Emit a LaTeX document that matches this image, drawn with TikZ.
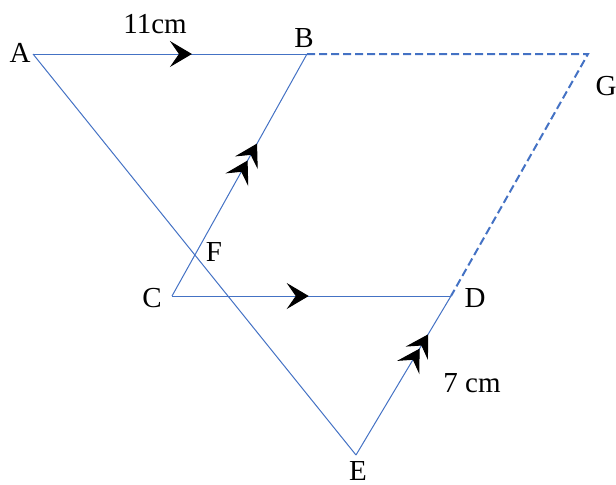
\documentclass[tikz,border=0pt]{standalone}
\usepackage{fontspec}
\setmainfont{Liberation Serif}
\usepackage{xcolor}
\usetikzlibrary{arrows.meta,decorations.markings}

\begin{document}
\begin{tikzpicture}[x=0.5pt,y=-0.5pt,>=Stealth,
    font=\fontsize{14.5}{16}\selectfont,
    seg/.style={draw=cL,line width=0.5pt},
    ext/.style={draw=cL,line width=1pt,dash pattern=on 4pt off 2pt},
    mk/.style={postaction={decorate,decoration={markings,
       mark=at position #1 with {\arrow[black]{Stealth[length=11pt,width=13pt,inset=4.5pt]}}}}},
    mktwo/.style 2 args={postaction={decorate,decoration={markings,
       mark=at position #1 with {\arrow[black]{Stealth[length=11pt,width=13pt,inset=4.5pt]}},
       mark=at position #2 with {\arrow[black]{Stealth[length=11pt,width=13pt,inset=4.5pt]}}}}}]
    \definecolor{cL}{RGB}{68,114,196}
    \useasboundingbox (0,0) rectangle (616,484);
    % points
    \coordinate (A) at (33,54);
    \coordinate (B) at (307,54);
    \coordinate (G) at (588,54);
    \coordinate (C) at (172,296);
    \coordinate (D) at (451,296);
    \coordinate (E) at (356,455);
    % triangle sides and parallels
    \draw[seg,mk=0.58] (A) -- (B);
    \draw[seg] (A) -- (E);
    \draw[seg,mktwo={0.56}{0.63}] (C) -- (B);
    \draw[seg,mk=0.49] (C) -- (D);
    \draw[seg,mktwo={0.67}{0.76}] (E) -- (D);
    % extension
    \draw[ext] (B) -- (G) -- (D);
    % labels
    \node (lA) at (20,53) {A};
    \node (lB) at (304,38) {B};
    \node (lG) at (606,86) {G};
    \node (lF) at (214,252) {F};
    \node (lC) at (152,298) {C};
    \node (lD) at (475,298) {D};
    \node (lE) at (358,471) {E};
    \node (lAB) at (155,24) {11cm};
    \node (lED) at (472,383) {7 cm};
\end{tikzpicture}
\end{document}
